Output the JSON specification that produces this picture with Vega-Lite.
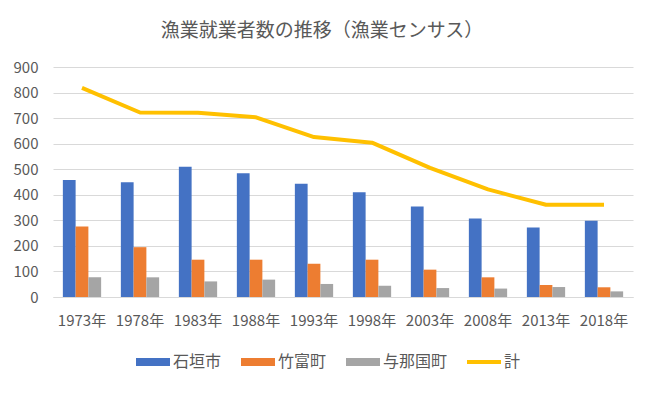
{
  "$schema": "https://vega.github.io/schema/vega-lite/v6.json",
  "autosize": "none",
  "width": 580,
  "height": 230,
  "padding": {"left": 53, "top": 67, "right": 17, "bottom": 100},
  "background": "white",
  "config": {
    "font": "Noto Sans CJK JP",
    "view": {"stroke": null}
  },
  "title": {
    "text": "漁業就業者数の推移（漁業センサス）",
    "fontSize": 19,
    "fontWeight": "normal",
    "color": "#595959",
    "anchor": "middle",
    "frame": "group",
    "dx": -21,
    "offset": 19
  },
  "data": {
    "values": [
      {"year": "1973年", "series": "石垣市", "value": 458},
      {"year": "1973年", "series": "竹富町", "value": 276},
      {"year": "1973年", "series": "与那国町", "value": 77},
      {"year": "1973年", "series": "計", "value": 818},
      {"year": "1978年", "series": "石垣市", "value": 449},
      {"year": "1978年", "series": "竹富町", "value": 195},
      {"year": "1978年", "series": "与那国町", "value": 77},
      {"year": "1978年", "series": "計", "value": 722},
      {"year": "1983年", "series": "石垣市", "value": 510},
      {"year": "1983年", "series": "竹富町", "value": 146},
      {"year": "1983年", "series": "与那国町", "value": 61},
      {"year": "1983年", "series": "計", "value": 721},
      {"year": "1988年", "series": "石垣市", "value": 484},
      {"year": "1988年", "series": "竹富町", "value": 146},
      {"year": "1988年", "series": "与那国町", "value": 68},
      {"year": "1988年", "series": "計", "value": 703},
      {"year": "1993年", "series": "石垣市", "value": 443},
      {"year": "1993年", "series": "竹富町", "value": 130},
      {"year": "1993年", "series": "与那国町", "value": 51},
      {"year": "1993年", "series": "計", "value": 626},
      {"year": "1998年", "series": "石垣市", "value": 410},
      {"year": "1998年", "series": "竹富町", "value": 146},
      {"year": "1998年", "series": "与那国町", "value": 44},
      {"year": "1998年", "series": "計", "value": 604},
      {"year": "2003年", "series": "石垣市", "value": 354},
      {"year": "2003年", "series": "竹富町", "value": 107},
      {"year": "2003年", "series": "与那国町", "value": 35},
      {"year": "2003年", "series": "計", "value": 505},
      {"year": "2008年", "series": "石垣市", "value": 307},
      {"year": "2008年", "series": "竹富町", "value": 77},
      {"year": "2008年", "series": "与那国町", "value": 33},
      {"year": "2008年", "series": "計", "value": 421},
      {"year": "2013年", "series": "石垣市", "value": 272},
      {"year": "2013年", "series": "竹富町", "value": 47},
      {"year": "2013年", "series": "与那国町", "value": 39},
      {"year": "2013年", "series": "計", "value": 361},
      {"year": "2018年", "series": "石垣市", "value": 298},
      {"year": "2018年", "series": "竹富町", "value": 38},
      {"year": "2018年", "series": "与那国町", "value": 22},
      {"year": "2018年", "series": "計", "value": 361}
    ]
  },
  "encoding": {
    "x": {
      "field": "year",
      "type": "nominal",
      "sort": null,
      "scale": {"paddingInner": 0.34, "paddingOuter": 0.17},
      "axis": {
        "title": null,
        "labelAngle": 0,
        "labelFontSize": 15,
        "labelColor": "#595959",
        "labelPadding": 16,
        "ticks": false,
        "domain": true,
        "domainColor": "#D9D9D9"
      }
    },
    "y": {
      "field": "value",
      "type": "quantitative",
      "scale": {"domain": [0, 900]},
      "axis": {
        "title": null,
        "values": [0, 100, 200, 300, 400, 500, 600, 700, 800, 900],
        "labelFontSize": 15,
        "labelColor": "#595959",
        "labelPadding": 15,
        "ticks": false,
        "domain": false,
        "gridColor": "#D9D9D9",
        "gridWidth": 1
      }
    },
    "color": {
      "field": "series",
      "type": "nominal",
      "scale": {
        "domain": ["石垣市", "竹富町", "与那国町", "計"],
        "range": ["#4472C4", "#ED7D31", "#A5A5A5", "#FFC000"]
      },
      "legend": {
        "title": null,
        "orient": "none",
        "direction": "horizontal",
        "legendX": 83,
        "legendY": 278,
        "columns": 4,
        "columnPadding": 19,
        "symbolSize": 1156,
        "labelOffset": 3,
        "labelFontSize": 16,
        "labelColor": "#595959",
        "encode": {
          "symbols": {
            "update": {
              "shape": {"signal": "datum.value == '計' ? 'M-1,-0.118H1V0.118H-1Z' : 'M-1,-0.235H1V0.235H-1Z'"},
              "fill": {"scale": "color", "field": "value"},
              "stroke": {"value": "transparent"},
              "strokeWidth": {"value": 0},
              "opacity": {"value": 1},
              "fillOpacity": {"value": 1}
            }
          }
        }
      }
    }
  },
  "layer": [
    {
      "transform": [{"filter": "datum.series != '計'"}],
      "mark": {"type": "bar"},
      "encoding": {
        "xOffset": {
          "field": "series",
          "type": "nominal",
          "sort": ["石垣市", "竹富町", "与那国町"],
          "scale": {"paddingInner": 0, "paddingOuter": 0}
        }
      }
    },
    {
      "transform": [{"filter": "datum.series == '計'"}],
      "mark": {"type": "line", "strokeWidth": 4, "strokeJoin": "round"}
    }
  ]
}
